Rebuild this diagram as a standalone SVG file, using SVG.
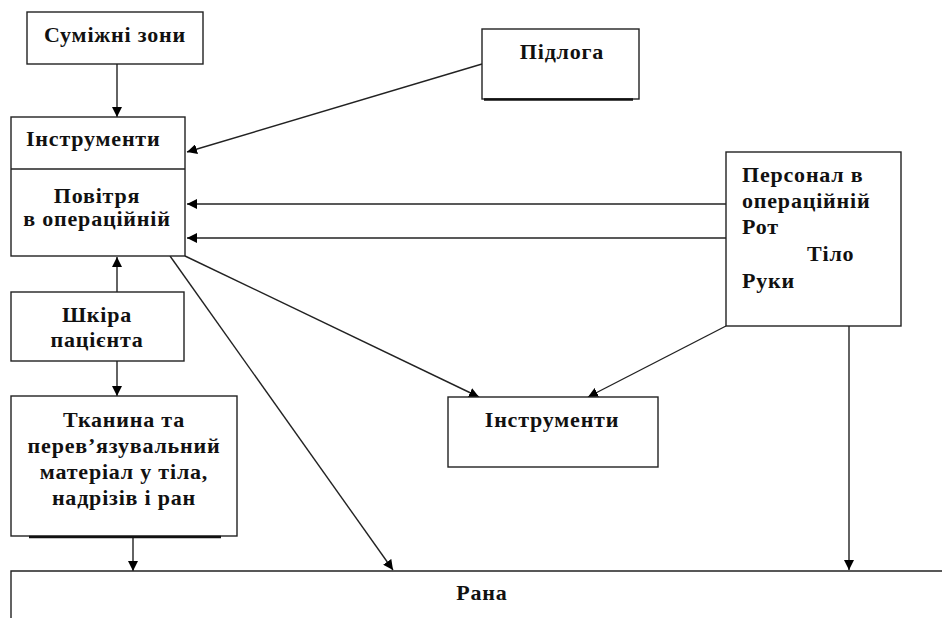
<svg xmlns="http://www.w3.org/2000/svg" width="942" height="618" viewBox="0 0 942 618">
<style>
.box{fill:#fff;stroke:#222;stroke-width:1.4}
.t{font-family:"Liberation Serif","Times New Roman",serif;font-weight:bold;font-size:22px;letter-spacing:0.8px;fill:#111}
.c{text-anchor:middle}
.ln{stroke:#222;stroke-width:1.4;fill:none}
.sh{stroke:#111;stroke-width:2.5}
</style>
<defs>
<marker id="ah" viewBox="0 0 10 10" refX="10" refY="5" markerWidth="10" markerHeight="10" markerUnits="userSpaceOnUse" orient="auto">
<path d="M0,0 L10,5 L0,10 z" fill="#000"/>
</marker>
</defs>
<rect width="942" height="618" fill="#fff"/>
<g id="connectors">
<line class="ln" x1="117" y1="64" x2="117" y2="117" marker-end="url(#ah)"/>
<line class="ln" x1="482" y1="64" x2="187" y2="152" marker-end="url(#ah)"/>
<line class="ln" x1="726" y1="204" x2="187" y2="204" marker-end="url(#ah)"/>
<line class="ln" x1="726" y1="238" x2="187" y2="238" marker-end="url(#ah)"/>
<line class="ln" x1="117" y1="292" x2="117" y2="257" marker-end="url(#ah)"/>
<line class="ln" x1="117" y1="361" x2="117" y2="396" marker-end="url(#ah)"/>
<line class="ln" x1="133" y1="537" x2="133" y2="571" marker-end="url(#ah)"/>
<line class="ln" x1="170" y1="256" x2="393" y2="570" marker-end="url(#ah)"/>
<line class="ln" x1="185" y1="256" x2="479" y2="397" marker-end="url(#ah)"/>
<line class="ln" x1="726" y1="326" x2="588" y2="397" marker-end="url(#ah)"/>
<line class="ln" x1="849" y1="326" x2="849" y2="570" marker-end="url(#ah)"/>
</g>
<g id="sumizhni">
<rect class="box" x="27" y="12" width="176" height="52"/>
<text class="t c" x="115" y="42">Суміжні зони</text>
</g>
<g id="pidloga">
<rect class="box" x="482" y="29" width="157" height="70"/>
<line class="sh" x1="484" y1="99.5" x2="633" y2="99.5"/>
<text class="t c" x="562" y="59">Підлога</text>
</g>
<g id="instr-povitrya">
<rect class="box" x="11" y="117" width="174" height="139"/>
<line class="ln" x1="11" y1="169" x2="185" y2="169"/>
<text class="t" x="26" y="146">Інструменти</text>
<text class="t c" x="97" y="203">Повітря</text>
<text class="t c" x="97" y="226">в операційній</text>
</g>
<g id="personal">
<rect class="box" x="726" y="152" width="175" height="174"/>
<text class="t" x="742" y="182">Персонал в</text>
<text class="t" x="742" y="208">операційній</text>
<text class="t" x="742" y="234">Рот</text>
<text class="t" x="807" y="261">Тіло</text>
<text class="t" x="742" y="288">Руки</text>
</g>
<g id="shkira">
<rect class="box" x="11" y="292" width="173" height="69"/>
<text class="t c" x="97" y="322">Шкіра</text>
<text class="t c" x="97" y="347">пацієнта</text>
</g>
<g id="tkanyna">
<rect class="box" x="11" y="396" width="226" height="140"/>
<line class="sh" x1="29" y1="537" x2="221" y2="537"/>
<text class="t c" x="124" y="427">Тканина та</text>
<text class="t c" x="124" y="453">перев’язувальний</text>
<text class="t c" x="124" y="479">матеріал у тіла,</text>
<text class="t c" x="124" y="505">надрізів і ран</text>
</g>
<g id="instrumenty2">
<rect class="box" x="448" y="397" width="210" height="70"/>
<text class="t c" x="552" y="427">Інструменти</text>
</g>
<g id="rana">
<path class="ln" d="M11,618 V571 H942" stroke="#555"/>
<text class="t c" x="482" y="600">Рана</text>
</g>
</svg>
